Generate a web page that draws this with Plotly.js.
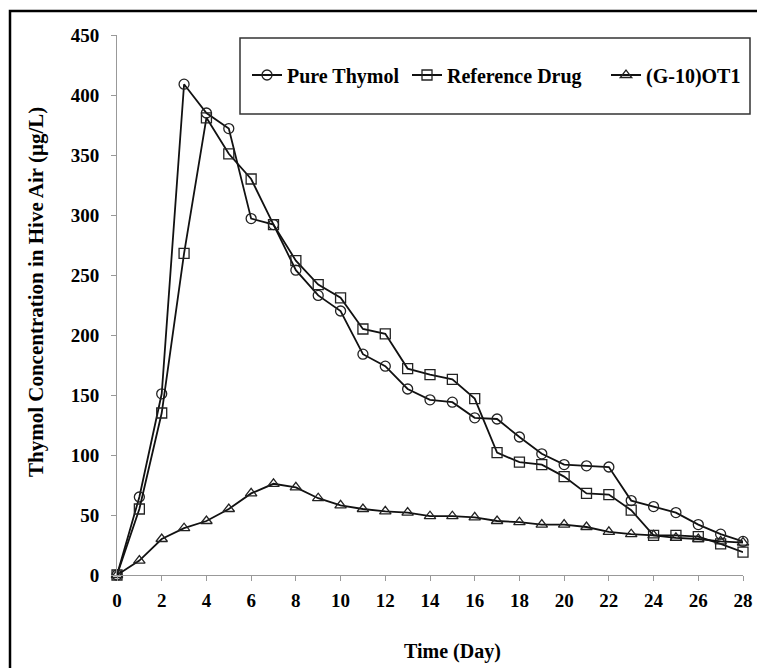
<!DOCTYPE html>
<html>
<head>
<meta charset="utf-8">
<script src="https://cdn.plot.ly/plotly-3.0.1.min.js"></script>
<style>html,body{margin:0;padding:0;background:#fff;}#chart{width:757px;height:668px;}</style>
</head>
<body>
<div id="chart"></div>
<script>
const days = [0,1,2,3,4,5,6,7,8,9,10,11,12,13,14,15,16,17,18,19,20,21,22,23,24,25,26,27,28];
const pureThymol = [0,65,151,409,385,372,297,292,254,233,220,184,174,155,146,144,131,130,115,101,92,91,90,62,57,52,42,34,28];
const referenceDrug = [0,55,135,268,381,351,330,292,262,242,231,205,201,172,167,163,147,102,94,92,82,68,67,54,33,33,32,26,19];
const g10OT1 = [0,12,30,39,45,55,68,76,73,64,58,55,53,52,49,49,48,45,44,42,42,40,36,34,33,31,30,28,27];
const seriesNames = ['Pure Thymol','Reference Drug','(G-10)OT1'];
const yTicks = [0,50,100,150,200,250,300,350,400,450];
const xTicks = [0,2,4,6,8,10,12,14,16,18,20,22,24,26,28];
const xTitle = 'Time (Day)';
const yTitle = 'Thymol Concentration in Hive Air (μg/L)';

const serif = 'Liberation Serif, Times New Roman, serif';
function trace(y, name, symbol, legendId) {
  return {
    x: days, y: y, name: name, type: 'scatter', mode: 'lines+markers', legend: legendId,
    line: {color: '#111', width: 1.8},
    marker: {symbol: symbol, size: 10, color: 'rgba(255,255,255,0)', line: {color: '#222', width: 1.3}},
    cliponaxis: false
  };
}
const data = [
  trace(pureThymol, seriesNames[0], 'circle', 'legend'),
  trace(referenceDrug, seriesNames[1], 'square', 'legend2'),
  trace(g10OT1, seriesNames[2], 'triangle-up', 'legend3')
];
const W = 626, H = 540, L = 117, T = 35;
const px = v => (v - L) / W;
const py = v => (T + H - v) / H;
function leg(xPix) {
  return {
    orientation: 'h', x: px(xPix), xanchor: 'left', y: py(75), yanchor: 'middle',
    font: {family: serif, size: 20, color: '#000', weight: 'bold'},
    bgcolor: 'rgba(0,0,0,0)', borderwidth: 0, itemwidth: 30
  };
}
const layout = {
  width: 757, height: 668,
  margin: {l: L, r: 757 - L - W, t: T, b: 668 - T - H, autoexpand: false},
  paper_bgcolor: '#fff', plot_bgcolor: '#fff',
  showlegend: true,
  legend: leg(247),
  legend2: leg(407),
  legend3: leg(606),
  xaxis: {
    range: [0, 28], tickvals: xTicks, ticktext: xTicks.map(String),
    showgrid: false, zeroline: false, showline: true, linecolor: '#999', linewidth: 1,
    ticks: 'outside', ticklen: 5, tickcolor: '#999', ticklabelstandoff: 3,
    tickfont: {family: serif, size: 19, color: '#000', weight: 'bold'},
    automargin: false
  },
  yaxis: {
    range: [0, 450], tickvals: yTicks, ticktext: yTicks.map(String),
    showgrid: false, zeroline: false, showline: true, linecolor: '#999', linewidth: 1,
    ticks: 'outside', ticklen: 5, tickcolor: '#999', ticklabelstandoff: 8,
    tickfont: {family: serif, size: 19, color: '#000', weight: 'bold'},
    automargin: false
  },
  annotations: [
    {text: xTitle, xref: 'paper', yref: 'paper', x: px(452), y: py(651), xanchor: 'center', yanchor: 'middle',
     showarrow: false, font: {family: serif, size: 20, color: '#000', weight: 'bold'}},
    {text: yTitle, xref: 'paper', yref: 'paper', x: px(36), y: py(292), xanchor: 'center', yanchor: 'middle',
     textangle: -90, showarrow: false, font: {family: serif, size: 21, color: '#000', weight: 'bold'}}
  ],
  shapes: [
    {type: 'rect', xref: 'paper', yref: 'paper', x0: px(240), x1: px(750), y0: py(114), y1: py(38),
     line: {color: '#333', width: 1.5}, fillcolor: 'rgba(0,0,0,0)'},
    {type: 'rect', xref: 'paper', yref: 'paper', x0: px(10), x1: 1.2, y0: -0.3, y1: py(11),
     line: {color: '#000', width: 2.5}, fillcolor: 'rgba(0,0,0,0)'}
  ]
};
Plotly.newPlot('chart', data, layout, {displayModeBar: false, staticPlot: true});
</script>
</body>
</html>
